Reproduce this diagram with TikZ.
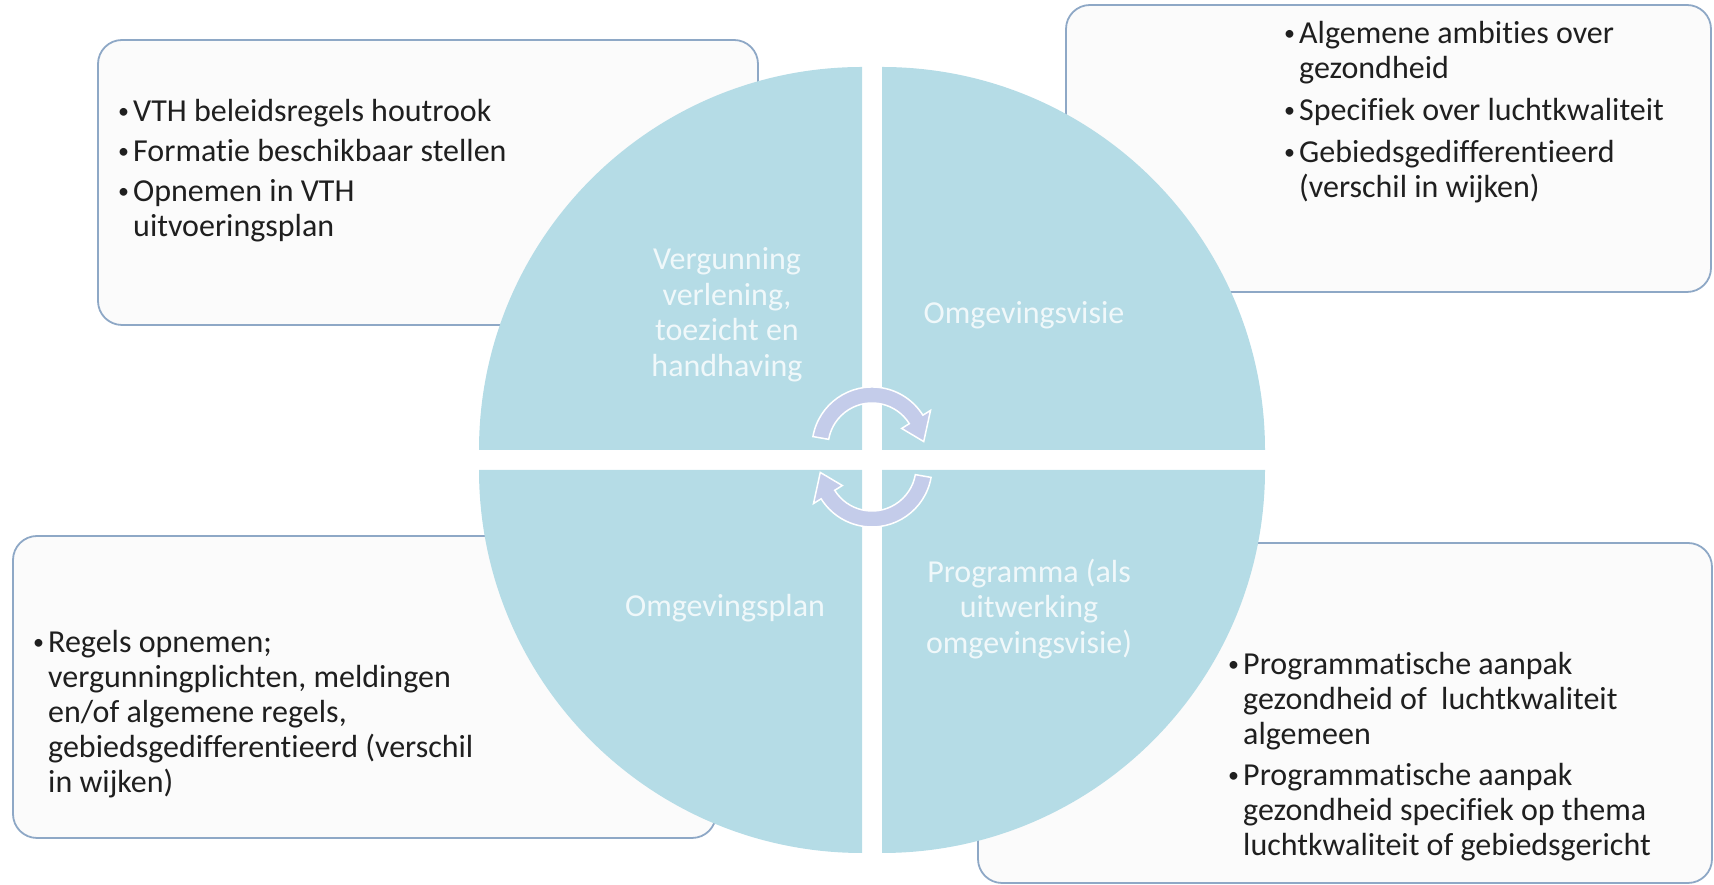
\documentclass[tikz,border=0pt]{standalone}
\usepackage{fontspec}
\setmainfont{Carlito}[Ligatures=NoCommon]
\usepackage{xcolor}

\definecolor{segblue}{HTML}{B5DCE6}
\definecolor{boxline}{HTML}{8EA8C6}
\definecolor{boxfill}{HTML}{FBFBFB}
\definecolor{turnblue}{HTML}{C4CCEA}
\definecolor{segwhite}{HTML}{F0F8FA}

\newcommand{\bitem}{\makebox[15pt][l]{\raisebox{2.5pt}{\fontsize{22}{22}\selectfont\textbullet}}}
\newcommand{\bcont}{\hspace*{15pt}}

\begin{document}
\begin{tikzpicture}[x=1pt, y=1pt,
    box/.style={draw=boxline, fill=boxfill, line width=1.8pt, rounded corners=24pt},
    seg/.style={fill=segblue},
    boxtext/.style={anchor=north west, inner sep=0pt, align=left, text=black!88, font=\fontsize{32}{35}\selectfont},
    segtext/.style={inner sep=0pt, align=center, text=segwhite, font=\fontsize{32}{35.5}\selectfont},
    turn/.style={fill=turnblue, draw=white, line width=1.5pt}]
                \useasboundingbox (0,0) rectangle (1714,885);

                % boxes behind the circle
                \draw[box] (98,560) rectangle (758,845);
                \draw[box] (1066,593) rectangle (1711,880);
                \draw[box] (13,47) rectangle (716,349);
                \draw[box] (978,2) rectangle (1712,342);

                % four quarters
                \fill[seg] (862,435) -- ++(-383,0) arc[start angle=180, end angle=90, radius=383] -- cycle;
                \fill[seg] (882,435) -- ++(0,383) arc[start angle=90, end angle=0, radius=383] -- cycle;
                \fill[seg] (882,415) -- ++(383,0) arc[start angle=0, end angle=-90, radius=383] -- cycle;
                \fill[seg] (862,415) -- ++(0,-383) arc[start angle=270, end angle=180, radius=383] -- cycle;

                % cycle arrows
                \foreach \cy/\rot in {438/0, 418/180}
                    \filldraw[turn, shift={(872,\cy)}, rotate=\rot] (170:60) arc[start angle=170, end angle=32, radius=60]
                        -- (32:69) -- (6:52) -- (32:35) -- (32:44) arc[start angle=32, end angle=170, radius=44] -- cycle;

                \node[segtext] (vth) at (727,570) {Vergunning\\verlening,\\toezicht en\\handhaving};
                \node[segtext] (visie) at (1024,570) {Omgevingsvisie};
                \node[segtext] (plan) at (725,277) {Omgevingsplan};
                \node[segtext] (prog) at (1029,276) {Programma (als\\uitwerking\\omgevingsvisie)};

                \node[boxtext] (vthtxt) at (118,786) {\bitem VTH beleidsregels houtrook\\[5pt]
                    \bitem Formatie beschikbaar stellen\\[5pt]
                    \bitem Opnemen in VTH\\
                    \bcont uitvoeringsplan};
                \node[boxtext] (visietxt) at (1284,864) {\bitem Algemene ambities over\\
                    \bcont gezondheid\\[7pt]
                    \bitem Specifiek over luchtkwaliteit\\[7pt]
                    \bitem Gebiedsgedifferentieerd\\
                    \bcont (verschil in wijken)};
                \node[boxtext] (plantxt) at (33,255) {\bitem Regels opnemen;\\
                    \bcont vergunningplichten, meldingen\\
                    \bcont en/of algemene regels,\\
                    \bcont gebiedsgedifferentieerd (verschil\\
                    \bcont in wijken)};
                \node[boxtext] (progtxt) at (1228,233) {\bitem Programmatische aanpak\\
                    \bcont gezondheid of\ \ luchtkwaliteit\\
                    \bcont algemeen\\[6pt]
                    \bitem Programmatische aanpak\\
                    \bcont gezondheid specifiek op thema\\
                    \bcont luchtkwaliteit of gebiedsgericht};
            \end{tikzpicture}
\end{document}
